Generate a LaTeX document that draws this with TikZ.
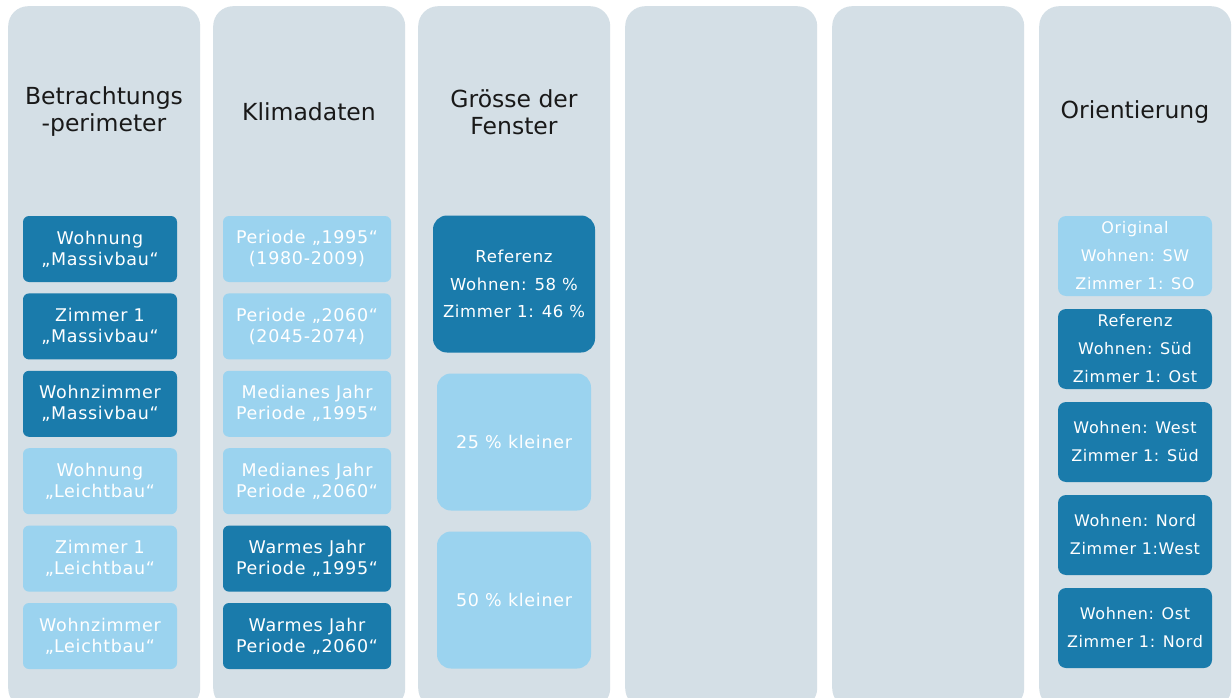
\documentclass[tikz,border=0pt]{standalone}
\usepackage{fontspec}
\setmainfont{DejaVu Sans}

\definecolor{panelgrey}{RGB}{212,223,230}
\definecolor{darkblue}{RGB}{26,123,171}
\definecolor{lightblue}{RGB}{155,211,239}

\newcommand{\boxfont}[2]{\fontsize{#1}{#2}\selectfont\addfontfeatures{LetterSpace=4}}

\tikzset{x=1pt, y=-1pt}
\tikzset{
  panel/.style={fill=panelgrey, rounded corners=20pt, minimum width=192pt,
    minimum height=702pt, inner sep=0pt},
  title/.style={align=center, text=black!90, font=\fontsize{23.5}{27}\selectfont},
  tbox/.style={rounded corners=6pt, minimum height=66pt, inner sep=0pt,
    align=center, text=white, font=\boxfont{17.5}{21}},
  dbox/.style={tbox, fill=darkblue},
  lbox/.style={tbox, fill=lightblue},
}

\begin{document}
\begin{tikzpicture}
\clip (0,0) rectangle (1232,698);
\fill[white] (0,0) rectangle (1232,698);

% the six grey columns
\foreach \x [count=\n] in {8,213,418,625,832,1039}
\node[panel, anchor=north west] (col\n) at (\x,6) {};

\node[title] (t1) at (104,112) {Betrachtungs\\-perimeter};
\node[title] (t2) at (309,112) {Klimadaten};
\node[title] (t3) at (514,112) {Grösse der\\Fenster};
\node[title] (t6) at (1135,112) {Orientierung};

% first column: perimeter
\foreach \y/\txt/\sty [count=\n] in {249/{Wohnung\\„Massivbau“}/dbox,
    326.4/{Zimmer 1\\„Massivbau“}/dbox, 403.8/{Wohnzimmer\\„Massivbau“}/dbox,
    481.2/{Wohnung\\„Leichtbau“}/lbox, 558.6/{Zimmer 1\\„Leichtbau“}/lbox,
    636/{Wohnzimmer\\„Leichtbau“}/lbox}
\node[\sty, minimum width=154pt] (peri\n) at (100,\y) {\txt};

% second column: climate data
\foreach \y/\txt/\sty [count=\n] in {249/{Periode „1995“\\(1980-2009)}/lbox,
    326.4/{Periode „2060“\\(2045-2074)}/lbox, 403.8/{Medianes Jahr\\Periode „1995“}/lbox,
    481.2/{Medianes Jahr\\Periode „2060“}/lbox, 558.6/{Warmes Jahr\\Periode „1995“}/dbox,
    636/{Warmes Jahr\\Periode „2060“}/dbox}
\node[\sty, minimum width=168pt] (klima\n) at (307,\y) {\txt};

% third column: window size
\node[dbox, minimum width=162pt, minimum height=137pt, rounded corners=14pt,
  font=\boxfont{16.5}{27.5}] (fen1) at (514,284)
  {Referenz\\Wohnen: 58 \%\\Zimmer 1: 46 \%};
\foreach \y/\txt [count=\n from 2] in {442/25 \% kleiner, 600/50 \% kleiner}
\node[lbox, minimum width=154pt, minimum height=137pt, rounded corners=14pt] (fen\n) at (514,\y) {\txt};

% last column: orientation
\foreach \y/\txt/\sty [count=\n] in {256/{Original\\Wohnen: SW\\Zimmer 1: SO}/lbox,
    349/{Referenz\\Wohnen: Süd\\Zimmer 1: Ost}/dbox,
    442/{Wohnen: West\\Zimmer 1: Süd}/dbox,
    535/{Wohnen: Nord\\Zimmer 1:West}/dbox,
    628/{Wohnen: Ost\\Zimmer 1: Nord}/dbox}
\node[\sty, minimum width=154pt, minimum height=80pt, rounded corners=8pt,
  font=\boxfont{16}{28}] (ori\n) at (1135,\y) {\txt};
\end{tikzpicture}
\end{document}
